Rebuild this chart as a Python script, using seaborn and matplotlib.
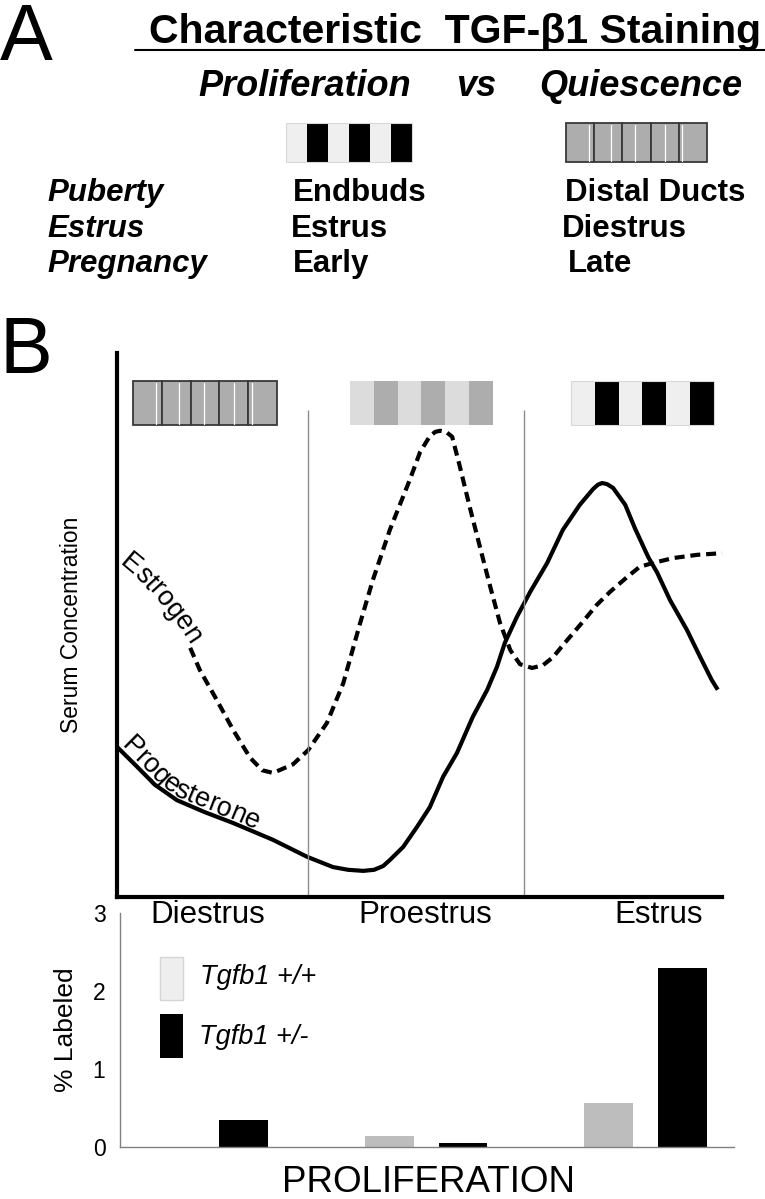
import numpy as np
import pandas as pd
import matplotlib
matplotlib.use('Agg')
import matplotlib.pyplot as plt
from matplotlib.patches import Rectangle
from matplotlib.font_manager import FontProperties
import seaborn as sns

# %% Values
# hormone curves: x = position in the cycle (0-100), y = relative serum level (0-100)
estrogen_x = [0.0, 3.0, 6.3, 9.6, 12.1, 13.7, 16.5, 19.2, 22.0, 24.0, 25.8, 29.1, 31.6,
              34.7, 37.4, 40.2, 42.3, 45.1, 48.4, 50.1, 51.7, 52.6, 53.4, 54.4, 55.4, 56.7,
              58.3, 60.0, 61.7, 63.3, 65.0, 66.6, 68.6, 70.4, 72.1, 73.7, 75.4, 77.0, 79.3,
              81.5, 84.3, 86.4, 88.6, 91.9, 95.9, 100.0]
estrogen_y = [61.4, 58.6, 54.6, 50.0, 45.8, 41.7, 36.2, 30.7, 25.6, 23.3, 22.8, 24.4, 27.0,
              32.0, 39.3, 50.4, 58.3, 67.5, 76.7, 81.8, 84.7, 85.5, 85.7, 85.5, 84.6, 79.0,
              71.7, 64.3, 57.0, 50.4, 45.4, 42.8, 42.1, 42.6, 44.1, 46.3, 48.5, 50.6, 53.7,
              56.1, 58.8, 60.7, 61.4, 62.3, 62.9, 63.2]

progesterone_x = [0.0, 3.0, 6.3, 9.9, 14.5, 19.2, 25.8, 31.4, 35.7, 38.2, 40.7, 42.5, 44.0,
                  45.1, 47.3, 49.6, 51.7, 53.9, 56.2, 58.8, 61.2, 62.8, 64.1, 66.1, 68.3,
                  71.1, 73.7, 76.5, 78.7, 79.5, 80.2, 81.0, 82.0, 84.0, 85.6, 87.8, 89.3,
                  91.4, 94.2, 96.4, 98.3, 99.3]
progesterone_y = [27.6, 24.3, 20.6, 17.8, 15.6, 13.6, 10.5, 7.4, 5.5, 5.0, 4.8, 5.0, 5.7,
                  6.8, 9.2, 12.9, 16.5, 22.1, 26.5, 33.1, 38.1, 42.3, 46.7, 51.5, 56.1,
                  61.4, 67.5, 72.1, 75.0, 75.8, 76.1, 75.9, 75.2, 72.1, 67.8, 62.5, 59.6,
                  54.6, 49.1, 44.1, 39.9, 38.1]

phases = ['Diestrus', 'Proestrus', 'Estrus']
phase_pos = [15.0, 50.9, 89.6]
phase_bounds = [31.6, 67.3]

# % labeled cells per phase
genotypes = ['Tgfb1 +/+', 'Tgfb1 +/-']
labeled_wt = [0.0, 0.14, 0.57]
labeled_het = [0.34, 0.05, 2.30]

# panel A table
rows = ['Puberty', 'Estrus', 'Pregnancy']
prolif_col = ['Endbuds', 'Estrus', 'Early']
quiesc_col = ['Distal Ducts', 'Diestrus', 'Late']

# %% Style
sns.set_theme(style='white', rc={'text.color': 'black', 'axes.labelcolor': 'black',
                                 'xtick.color': 'black', 'ytick.color': 'black'})
plt.rcParams['font.family'] = ['Liberation Sans', 'DejaVu Sans']

W, H = 765, 1199
fig = plt.figure(figsize=(W / 100, H / 100), dpi=100)


def px_axes(x0, y0, x1, y1, **kw):
    # axes placed with pixel edges (y downwards)
    return fig.add_axes([x0 / W, 1 - y1 / H, (x1 - x0) / W, (y1 - y0) / H], **kw)


# overlay in pixel coordinates for the annotations
ov = px_axes(0, 0, W, H, zorder=5)
ov.set_xlim(0, W)
ov.set_ylim(H, 0)
ov.axis('off')


def stripe_box(x0, y0, x1, y1, colors, edge=None):
    w = (x1 - x0) / len(colors)
    for i, c in enumerate(colors):
        ov.add_patch(Rectangle((x0 + i * w, y0), w, y1 - y0, fc=c, ec='none'))
    if edge:
        ov.add_patch(Rectangle((x0, y0), x1 - x0, y1 - y0, fc='none', ec=edge, lw=0.8))


def quiescent_box(x0, y0, x1, y1):
    w = (x1 - x0) / 5
    for i, f in enumerate([0.8, 0.6, 0.45, 0.5, 0.12]):
        ov.add_patch(Rectangle((x0 + i * w, y0), w, y1 - y0, fc='#adadad', ec='#383838', lw=1.3))
        ov.plot([x0 + (i + f) * w] * 2, [y0 + 1.5, y1 - 1.5], color='white', lw=0.9)


prolif = ['#efefef', '#000000'] * 3
proest = ['#dcdcdc', '#adadad'] * 3

# %% Panel A
ov.text(0, 60, 'A', fontsize=57, va='baseline')
ov.text(455, 43, 'Characteristic  TGF-\u03b21 Staining', ha='center', va='baseline',
        fontsize=29.5, weight='bold')
ov.plot([135, 765], [50, 50], color='black', lw=1.5)
for x, s in zip([198, 456, 539], ['Proliferation', 'vs', 'Quiescence']):
    ov.text(x, 96, s, fontsize=26, weight='bold', style='italic', va='baseline')

stripe_box(286, 123, 412, 162, prolif, edge='#d8d8d8')
quiescent_box(566, 123, 707, 162)

row_y = [201, 237, 272]
mid_x = [293, 291, 293]
right_x = [565, 562, 568]
for i in range(3):
    ov.text(47, row_y[i], rows[i], fontsize=22.5, weight='bold', style='italic', va='baseline')
    ov.text(mid_x[i], row_y[i], prolif_col[i], fontsize=22.5, weight='bold', va='baseline')
    ov.text(right_x[i], row_y[i], quiesc_col[i], fontsize=22.5, weight='bold', va='baseline')

# %% Panel B - serum curves
ov.text(0, 373, 'B', fontsize=57, va='baseline')

ax = px_axes(117, 353, 722, 897, zorder=3)
ax.set_facecolor('none')
ax.set_xlim(0, 100)
ax.set_ylim(0, 100)

sns.lineplot(x=progesterone_x, y=progesterone_y, ax=ax, color='black', lw=3, sort=False)
sns.lineplot(x=estrogen_x[4:], y=estrogen_y[4:], ax=ax, color='black', lw=3, sort=False)
ax.lines[-1].set_dashes([2.4, 1.4])
for ln in ax.lines:
    ln.set_clip_on(False)
    ln.set_solid_capstyle('butt')
    ln.set_solid_joinstyle('round')
    ln.set_dash_joinstyle('round')

ax.vlines(phase_bounds, 0, 89.5, color='#8c8c8c', lw=1)

for s in ['top', 'right']:
    ax.spines[s].set_visible(False)
for s in ['left', 'bottom']:
    ax.spines[s].set_color('black')
    ax.spines[s].set_linewidth(3)
ax.set_yticks([])
ax.set_xticks(phase_pos, phases, fontsize=22.5)
ax.tick_params(axis='x', length=0, pad=2)
ax.set_ylabel('Serum Concentration', fontsize=16.5)
ax.yaxis.set_label_coords(-0.056, 0.5)

quiescent_box(133, 381, 277, 425)
stripe_box(350, 381, 493, 425, proest)
stripe_box(571, 381, 714, 425, prolif, edge='#d8d8d8')


def label_along(ax, xs, ys, s, size, offset):
    # write a label letter by letter along a curve
    renderer = fig.canvas.get_renderer()
    pts = ax.transData.transform(np.column_stack([xs, ys]))
    seg = np.diff(pts, axis=0)
    seglen = np.hypot(seg[:, 0], seg[:, 1])
    cum = np.concatenate([[0], np.cumsum(seglen)])
    prop = FontProperties(family=['Liberation Sans'], size=size)

    def width(t):
        return renderer.get_text_width_height_descent(t, prop, ismath=False)[0]

    for i, ch in enumerate(s):
        d = width(s[:i + 1]) - width(ch) / 2 + 2
        k = int(np.clip(np.searchsorted(cum, d) - 1, 0, len(seg) - 1))
        px = np.interp(d, cum, pts[:, 0])
        py = np.interp(d, cum, pts[:, 1])
        ang = np.degrees(np.arctan2(seg[k, 1], seg[k, 0]))
        nx, ny = -seg[k, 1] / seglen[k], seg[k, 0] / seglen[k]
        x, y = ax.transData.inverted().transform((px + nx * offset, py + ny * offset))
        ax.text(x, y, ch, rotation=ang, rotation_mode='anchor', ha='center', va='baseline',
                fontsize=size, clip_on=False)


label_along(ax, estrogen_x, estrogen_y, 'Estrogen', 19.5, 1)
label_along(ax, progesterone_x, progesterone_y, 'Progesterone', 19.5, 3)

# %% Panel B - proliferation bars
df = pd.DataFrame({'phase': phases * 2,
                   'genotype': [genotypes[0]] * 3 + [genotypes[1]] * 3,
                   'pct': labeled_wt + labeled_het})

axb = px_axes(120, 913, 734, 1147, zorder=2)
axb.set_facecolor('none')
sns.barplot(data=df, x='phase', y='pct', hue='genotype', order=phases, hue_order=genotypes,
            palette=['#bdbdbd', '#000000'], saturation=1, width=0.67, gap=0.334,
            errorbar=None, legend=False, linewidth=0, ax=axb)
axb.set_xlim(-0.395, 2.402)
axb.set_ylim(0, 3)
axb.set_yticks([0, 1, 2, 3])
axb.set_xticks([])
axb.tick_params(axis='y', length=7, width=1, color='#808080', direction='inout',
                pad=7, labelsize=16.5)
for s in ['top', 'right']:
    axb.spines[s].set_visible(False)
for s in ['left', 'bottom']:
    axb.spines[s].set_color('#808080')
    axb.spines[s].set_linewidth(1)
axb.set_ylabel('% Labeled', fontsize=19)
axb.yaxis.set_label_coords(-0.068, 0.5)
axb.set_xlabel('PROLIFERATION', fontsize=26.5)
axb.xaxis.set_label_coords(0.503, -0.075)

# legend drawn by hand, as in the original
ov.add_patch(Rectangle((160, 957), 23, 43, fc='#eeeeee', ec='#d6d6d6', lw=1))
ov.add_patch(Rectangle((160, 1014), 23, 44, fc='black', ec='none'))
ov.text(200, 984, genotypes[0], fontsize=19.5, style='italic', va='baseline')
ov.text(199, 1044, genotypes[1], fontsize=19.5, style='italic', va='baseline')

fig.savefig('out.png', dpi=100)
